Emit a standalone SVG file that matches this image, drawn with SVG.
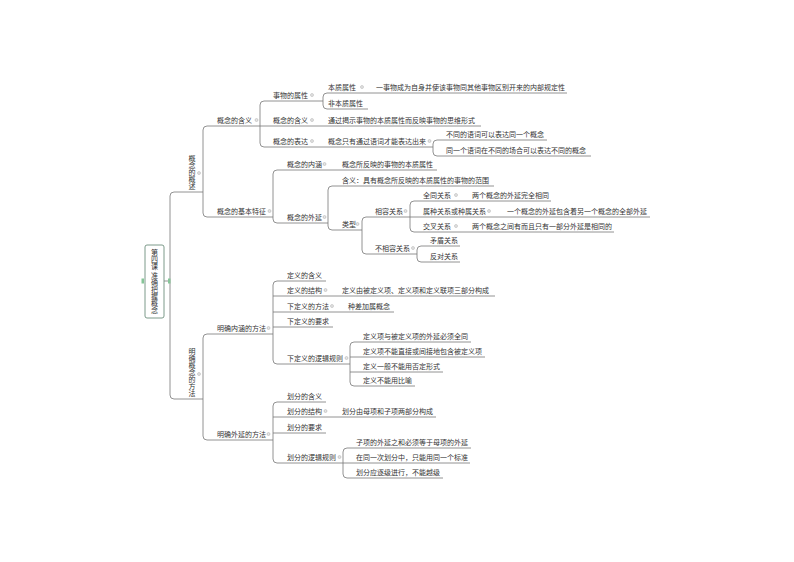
<svg xmlns="http://www.w3.org/2000/svg" width="794" height="562" viewBox="0 0 794 562">
<style>
.t{font-family:"Noto Sans CJK SC","Noto Sans CJK JP",sans-serif;font-size:7px;fill:#333}
.v{writing-mode:vertical-rl}
.ln{fill:none;stroke:#777;stroke-width:0.8}
.mk{fill:#e4e4e4;stroke:#aaa;stroke-width:0.5}
.gm{fill:#86c598}
</style>
<rect width="794" height="562" fill="#fff"/>
<g id="connectors" class="ln">
<path d="M163,281 H170"/>
<path d="M174,192 Q170,192 170,196 V395 Q170,399 174,399 M174,192 H203 M174,399 H203"/>
<path d="M207,126 Q203,126 203,130 V213 Q203,217 207,217 M207,126 H260 M207,217 H273"/>
<path d="M207,334 Q203,334 203,338 V436 Q203,440 207,440 M207,334 H273 M207,440 H273"/>
<path d="M264,101 Q260,101 260,105 V143 Q260,147 264,147 M264,101 H323 M260,126 H481 M264,147 H433"/>
<path d="M327,93 Q323,93 323,97 V105 Q323,109 327,109 M327,93 H567 M327,109 H368"/>
<path d="M437,140 Q433,140 433,144 V152 Q433,156 437,156 M437,140 H547 M437,156 H591"/>
<path d="M277,170 Q273,170 273,174 V219 Q273,223 277,223 M277,170 H437 M277,223 H328"/>
<path d="M332,186 Q328,186 328,190 V226 Q328,230 332,230 M332,186 H494 M332,230 H362"/>
<path d="M366,217 Q362,217 362,221 V250 Q362,254 366,254 M366,217 H410 M366,254 H417"/>
<path d="M414,201 Q410,201 410,205 V228 Q410,232 414,232 M414,201 H551 M410,217 H650 M414,232 H614"/>
<path d="M421,246 Q417,246 417,250 V258 Q417,262 421,262 M421,246 H460 M421,262 H460"/>
<path d="M277,281 Q273,281 273,285 V360 Q273,364 277,364 M277,281 H326 M273,296 H495 M273,312 H394 M273,327 H333 M277,364 H350"/>
<path d="M354,342 Q350,342 350,346 V382 Q350,386 354,386 M354,342 H471 M350,357 H485 M350,372 H443 M354,386 H415"/>
<path d="M277,402 Q273,402 273,406 V459 Q273,463 277,463 M277,402 H326 M273,417 H436 M273,433 H326 M277,463 H343"/>
<path d="M347,448 Q343,448 343,452 V474 Q343,478 347,478 M347,448 H471 M343,463 H470 M347,478 H443"/>
</g>
<g id="root">
<rect x="145" y="245" width="19" height="73" rx="2" fill="#fff" stroke="#6d8f7d" stroke-width="0.9"/>
<rect class="gm" x="141.5" y="278.5" width="2.5" height="5"/>
<rect class="gm" x="168" y="278.5" width="2.5" height="5"/>
<text class="t v" x="154.5" y="249">第四课 准确把握概念</text>
</g>
<g id="n-gainian-gaishu"><text class="t v" x="192" y="155">概念的概述</text><circle class="mk" cx="199" cy="173" r="1.5"/></g>
<g id="n-mingque-fangfa"><text class="t v" x="192" y="348">明确概念的方法</text><circle class="mk" cx="199" cy="374" r="1.5"/></g>
<g id="n-hanyi"><text class="t" x="217" y="122.5">概念的含义</text><circle class="mk" cx="256.5" cy="120" r="1.5"/></g>
<g id="n-jiben-tezheng"><text class="t" x="217" y="213.5">概念的基本特征</text><circle class="mk" cx="269.5" cy="211" r="1.5"/></g>
<g id="n-shuxing"><text class="t" x="273" y="97.5">事物的属性</text><circle class="mk" cx="312" cy="95" r="1.5"/></g>
<g id="n-hanyi2"><text class="t" x="273" y="122.5">概念的含义</text><circle class="mk" cx="312" cy="120" r="1.5"/></g>
<g id="n-biaoda"><text class="t" x="273" y="143.5">概念的表达</text><circle class="mk" cx="312" cy="141" r="1.5"/></g>
<g id="n-benzhi"><text class="t" x="328" y="89.5">本质属性</text><circle class="mk" cx="362" cy="87" r="1.5"/></g>
<g id="n-benzhi-def"><text class="t" x="376" y="89.5">一事物成为自身并使该事物同其他事物区别开来的内部规定性</text></g>
<g id="n-feibenzhi"><text class="t" x="328" y="105.5">非本质属性</text></g>
<g id="n-hanyi-def"><text class="t" x="328" y="122.5">通过揭示事物的本质属性而反映事物的思维形式</text></g>
<g id="n-biaoda-def"><text class="t" x="328" y="143.5">概念只有通过语词才能表达出来</text><circle class="mk" cx="429.5" cy="141" r="1.5"/></g>
<g id="n-butong-yuci"><text class="t" x="446" y="136.5">不同的语词可以表达同一个概念</text></g>
<g id="n-tongyi-yuci"><text class="t" x="446" y="152.5">同一个语词在不同的场合可以表达不同的概念</text></g>
<g id="n-neihan"><text class="t" x="287" y="166.5">概念的内涵</text><circle class="mk" cx="324.5" cy="164" r="1.5"/></g>
<g id="n-neihan-def"><text class="t" x="342" y="166.5">概念所反映的事物的本质属性</text></g>
<g id="n-waiyan"><text class="t" x="287" y="219.5">概念的外延</text><circle class="mk" cx="324.5" cy="217" r="1.5"/></g>
<g id="n-waiyan-def"><text class="t" x="342" y="182.5">含义：具有概念所反映的本质属性的事物的范围</text></g>
<g id="n-leixing"><text class="t" x="342" y="226.5">类型</text><circle class="mk" cx="357.5" cy="224" r="1.5"/></g>
<g id="n-xiangrong"><text class="t" x="375" y="213.5">相容关系</text><circle class="mk" cx="405.5" cy="211" r="1.5"/></g>
<g id="n-quantong"><text class="t" x="423" y="197.5">全同关系</text><circle class="mk" cx="456" cy="195" r="1.5"/></g>
<g id="n-quantong-def"><text class="t" x="472" y="197.5">两个概念的外延完全相同</text></g>
<g id="n-shuzhong"><text class="t" x="423" y="213.5">属种关系或种属关系</text><circle class="mk" cx="489" cy="211" r="1.5"/></g>
<g id="n-shuzhong-def"><text class="t" x="507" y="213.5">一个概念的外延包含着另一个概念的全部外延</text></g>
<g id="n-jiaocha"><text class="t" x="423" y="228.5">交叉关系</text><circle class="mk" cx="456" cy="226" r="1.5"/></g>
<g id="n-jiaocha-def"><text class="t" x="472" y="228.5">两个概念之间有而且只有一部分外延是相同的</text></g>
<g id="n-buxiangrong"><text class="t" x="375" y="250.5">不相容关系</text><circle class="mk" cx="413" cy="248" r="1.5"/></g>
<g id="n-maodun"><text class="t" x="430" y="242.5">矛盾关系</text></g>
<g id="n-fandui"><text class="t" x="430" y="258.5">反对关系</text></g>
<g id="n-neihan-fangfa"><text class="t" x="217" y="330.5">明确内涵的方法</text><circle class="mk" cx="268.5" cy="328" r="1.5"/></g>
<g id="n-dingyi-hanyi"><text class="t" x="287" y="277.5">定义的含义</text></g>
<g id="n-dingyi-jiegou"><text class="t" x="287" y="292.5">定义的结构</text><circle class="mk" cx="325.5" cy="290" r="1.5"/></g>
<g id="n-dingyi-jiegou-def"><text class="t" x="342" y="292.5">定义由被定义项、定义项和定义联项三部分构成</text></g>
<g id="n-xiadingyi-fangfa"><text class="t" x="287" y="308.5">下定义的方法</text><circle class="mk" cx="332" cy="306" r="1.5"/></g>
<g id="n-zhongcha"><text class="t" x="348" y="308.5">种差加属概念</text></g>
<g id="n-xiadingyi-yaoqiu"><text class="t" x="287" y="323.5">下定义的要求</text></g>
<g id="n-xiadingyi-guize"><text class="t" x="287" y="360.5">下定义的逻辑规则</text><circle class="mk" cx="346.5" cy="358" r="1.5"/></g>
<g id="n-gz1"><text class="t" x="363" y="338.5">定义项与被定义项的外延必须全同</text></g>
<g id="n-gz2"><text class="t" x="363" y="353.5">定义项不能直接或间接地包含被定义项</text></g>
<g id="n-gz3"><text class="t" x="363" y="368.5">定义一般不能用否定形式</text></g>
<g id="n-gz4"><text class="t" x="363" y="382.5">定义不能用比喻</text></g>
<g id="n-waiyan-fangfa"><text class="t" x="217" y="436.5">明确外延的方法</text><circle class="mk" cx="268.5" cy="434" r="1.5"/></g>
<g id="n-huafen-hanyi"><text class="t" x="287" y="398.5">划分的含义</text></g>
<g id="n-huafen-jiegou"><text class="t" x="287" y="413.5">划分的结构</text><circle class="mk" cx="325.5" cy="411" r="1.5"/></g>
<g id="n-huafen-jiegou-def"><text class="t" x="342" y="413.5">划分由母项和子项两部分构成</text></g>
<g id="n-huafen-yaoqiu"><text class="t" x="287" y="429.5">划分的要求</text></g>
<g id="n-huafen-guize"><text class="t" x="287" y="459.5">划分的逻辑规则</text><circle class="mk" cx="339.5" cy="457" r="1.5"/></g>
<g id="n-hf1"><text class="t" x="356" y="444.5">子项的外延之和必须等于母项的外延</text></g>
<g id="n-hf2"><text class="t" x="356" y="459.5">在同一次划分中，只能用同一个标准</text></g>
<g id="n-hf3"><text class="t" x="356" y="474.5">划分应逐级进行，不能越级</text></g>
</svg>
